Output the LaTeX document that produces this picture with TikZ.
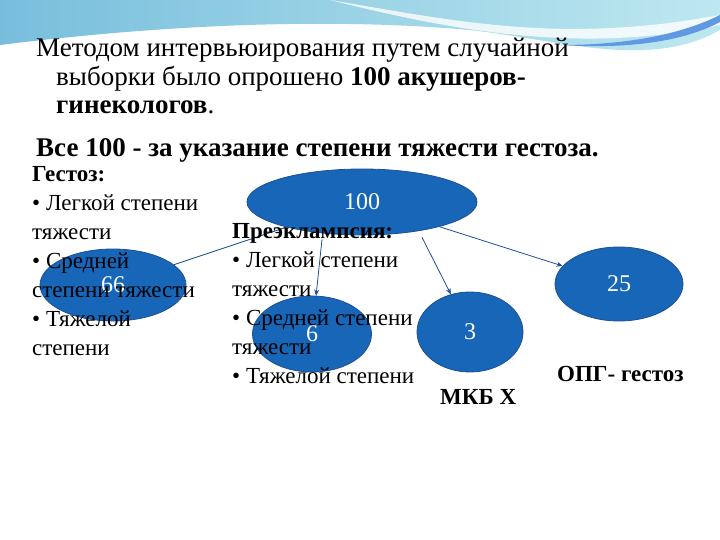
\documentclass[tikz,border=0pt]{standalone}
\usepackage{fontspec}
\setmainfont{Liberation Serif}
\usetikzlibrary{arrows.meta,shapes.geometric}
\definecolor{nblue}{RGB}{23,102,184}
\definecolor{nedge}{RGB}{30,80,150}
\definecolor{sky}{RGB}{120,190,220}
\definecolor{skyl}{RGB}{190,232,240}
\tikzset{
  bub/.style={ellipse, fill=nblue, draw=nedge, line width=0.8pt, text=white, font=\fontsize{24}{24}\selectfont},
  conn/.style={draw=nedge, line width=0.8pt, -{Stealth[length=6pt,width=5pt]}},
  txt/.style={anchor=base west, align=left, font=\fontsize{23}{29}\selectfont, inner sep=0pt},
  ttl/.style={anchor=base west, inner sep=0pt, font=\fontsize{27}{29}\selectfont}
}
\begin{document}
\begin{tikzpicture}[x=1pt,y=-1pt]
\useasboundingbox (0,0) rectangle (720,540);
\fill[white] (0,0) rectangle (720,540);
% decorative top swoosh
\shade[left color=sky, right color=skyl] (0,0) -- (720,0) -- (720,30) .. controls (650,70) and (560,40) .. (470,30) .. controls (300,15) and (120,30) .. (0,45) -- cycle;
\fill[white, opacity=0.8] (330,0) .. controls (450,20) and (560,45) .. (720,15) -- (720,25) .. controls (580,55) and (450,30) .. (330,0) -- cycle;
\fill[sky!80!blue] (560,45) .. controls (640,45) and (690,30) .. (720,15) -- (720,22) .. controls (690,38) and (640,50) .. (560,45) -- cycle;
% title text
\node[ttl] (t1) at (36,57) {Методом интервьюирования путем случайной};
\node[ttl] (t2) at (56,86) {выборки было опрошено \textbf{100 акушеров-}};
\node[ttl] (t3) at (56,114) {\textbf{гинекологов}.};
\node[ttl, font=\bfseries\fontsize{27}{29}\selectfont] (t4) at (36,157) {Все 100 - за указание степени тяжести гестоза.};
% bubbles
\node[bub, minimum width=230pt, minimum height=66pt] (n100) at (362,202) {100};
\node[bub, minimum width=146pt, minimum height=72pt] (n66) at (113,285) {66};
\node[bub, minimum width=119pt, minimum height=76pt] (n6) at (312,334) {6};
\node[bub, minimum width=106pt, minimum height=80pt] (n3) at (470,332) {3};
\node[bub, minimum width=128pt, minimum height=74pt] (n25) at (619,284) {25};
\draw[draw=nedge, line width=0.8pt] (n100) -- (n66);
\draw[conn] (n100.south) ++(-40,4) coordinate (a) -- (n6);
\draw[conn] (n100.south) ++(60,2) coordinate (b) -- (n3);
\draw[conn] (n100) -- (n25);
% texts
\node[txt] (g) at (32,355) {\textbf{Гестоз:}\\• Легкой степени\\тяжести\\• Средней\\степени тяжести\\• Тяжелой\\степени};
\node[txt] (p) at (232,383) {\textbf{Преэклампсия:}\\• Легкой степени\\тяжести\\• Средней степени\\тяжести\\• Тяжелой степени};
\node[txt] (m) at (440,404) {\textbf{МКБ Х}};
\node[txt] (o) at (557,381) {\textbf{ОПГ- гестоз}};
\end{tikzpicture}
\end{document}
